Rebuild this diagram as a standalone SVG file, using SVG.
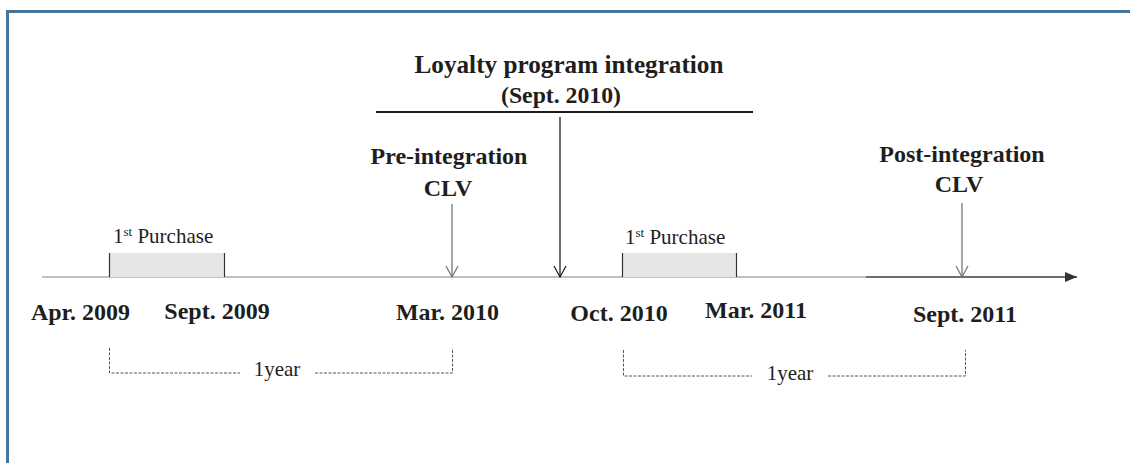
<svg xmlns="http://www.w3.org/2000/svg" width="1130" height="463" viewBox="0 0 1130 463">
<style>
.t{font-family:"Liberation Serif","Times New Roman",serif;fill:#1e1e1e;text-anchor:middle}
.b{font-weight:bold;font-size:24px}
.r{font-size:21px}
.p{font-size:21px;text-anchor:start}
.dash{stroke:#555;stroke-width:1;stroke-dasharray:3 1.5;fill:none}
.arr{fill:none;stroke-width:1.3}
.side{stroke:#333;stroke-width:1.2}
</style>
<defs>
<marker id="tri" markerWidth="12" markerHeight="10" refX="12" refY="5" orient="auto" markerUnits="userSpaceOnUse">
<path d="M0,0 L12,5 L0,10 Z" fill="#333"/>
</marker>
</defs>
<rect width="1130" height="463" fill="#fff"/>
<g id="border" fill="none" stroke="#46749c" stroke-width="3">
<line x1="6" y1="11.5" x2="1130" y2="11.5"/>
<line x1="7.5" y1="10" x2="7.5" y2="463"/>
</g>
<g id="timeline">
<line x1="42" y1="277" x2="866" y2="277" stroke="#c0c0c0" stroke-width="2"/>
<line x1="866" y1="277" x2="1077" y2="277" stroke="#6e6e6e" stroke-width="2" marker-end="url(#tri)"/>
</g>
<g id="purchase1">
<rect x="109" y="253" width="115" height="24" fill="#e6e6e6"/>
<line class="side" x1="109.5" y1="253" x2="109.5" y2="277"/>
<line class="side" x1="224.5" y1="253" x2="224.5" y2="277"/>
<text class="t p" x="113" y="243">1<tspan font-size="13" dy="-7">st</tspan><tspan dy="7"> Purchase</tspan></text>
</g>
<g id="purchase2">
<rect x="622" y="253" width="114" height="24" fill="#e6e6e6"/>
<line class="side" x1="622.5" y1="253" x2="622.5" y2="277"/>
<line class="side" x1="736.5" y1="253" x2="736.5" y2="277"/>
<text class="t p" x="625" y="244">1<tspan font-size="13" dy="-7">st</tspan><tspan dy="7"> Purchase</tspan></text>
</g>
<g id="integration">
<text class="t" font-weight="bold" font-size="25" x="569" y="73" textLength="309" lengthAdjust="spacingAndGlyphs">Loyalty program  integration</text>
<text class="t" font-weight="bold" font-size="23" x="561" y="103" textLength="120" lengthAdjust="spacingAndGlyphs">(Sept. 2010)</text>
<line x1="376" y1="112" x2="753" y2="112" stroke="#1e1e1e" stroke-width="2"/>
</g>
<g id="pre-clv">
<text class="t b" x="449" y="164">Pre-integration</text>
<text class="t b" x="448" y="196">CLV</text>
</g>
<g id="post-clv">
<text class="t b" x="962" y="162">Post-integration</text>
<text class="t b" x="959" y="192">CLV</text>
</g>
<g id="dates">
<text class="t b" x="80.5" y="320">Apr. 2009</text>
<text class="t b" x="217" y="319">Sept. 2009</text>
<text class="t b" x="447.5" y="320">Mar. 2010</text>
<text class="t b" x="619" y="321">Oct. 2010</text>
<text class="t b" x="756" y="318">Mar. 2011</text>
<text class="t b" x="965" y="322">Sept. 2011</text>
</g>
<g id="connectors">
<g stroke="#777" class="arr">
<line x1="452" y1="204" x2="452" y2="277"/>
<polyline points="446,266 452,277 458,266"/>
<line x1="962" y1="203" x2="962" y2="277"/>
<polyline points="956,266 962,277 968,266"/>
</g>
<g stroke="#222" class="arr" stroke-width="1.6">
<line x1="560" y1="117" x2="560" y2="277"/>
<polyline points="554,266 560,277 566,266"/>
</g>
</g>
<g id="year1">
<polyline class="dash" points="109.5,348 109.5,373 240,373"/>
<polyline class="dash" points="315,373 452.5,373 452.5,348"/>
<text class="t r" x="277" y="376">1year</text>
</g>
<g id="year2">
<polyline class="dash" points="623.5,350 623.5,376 752,376"/>
<polyline class="dash" points="828,376 965.5,376 965.5,350"/>
<text class="t r" x="790" y="380">1year</text>
</g>
</svg>
